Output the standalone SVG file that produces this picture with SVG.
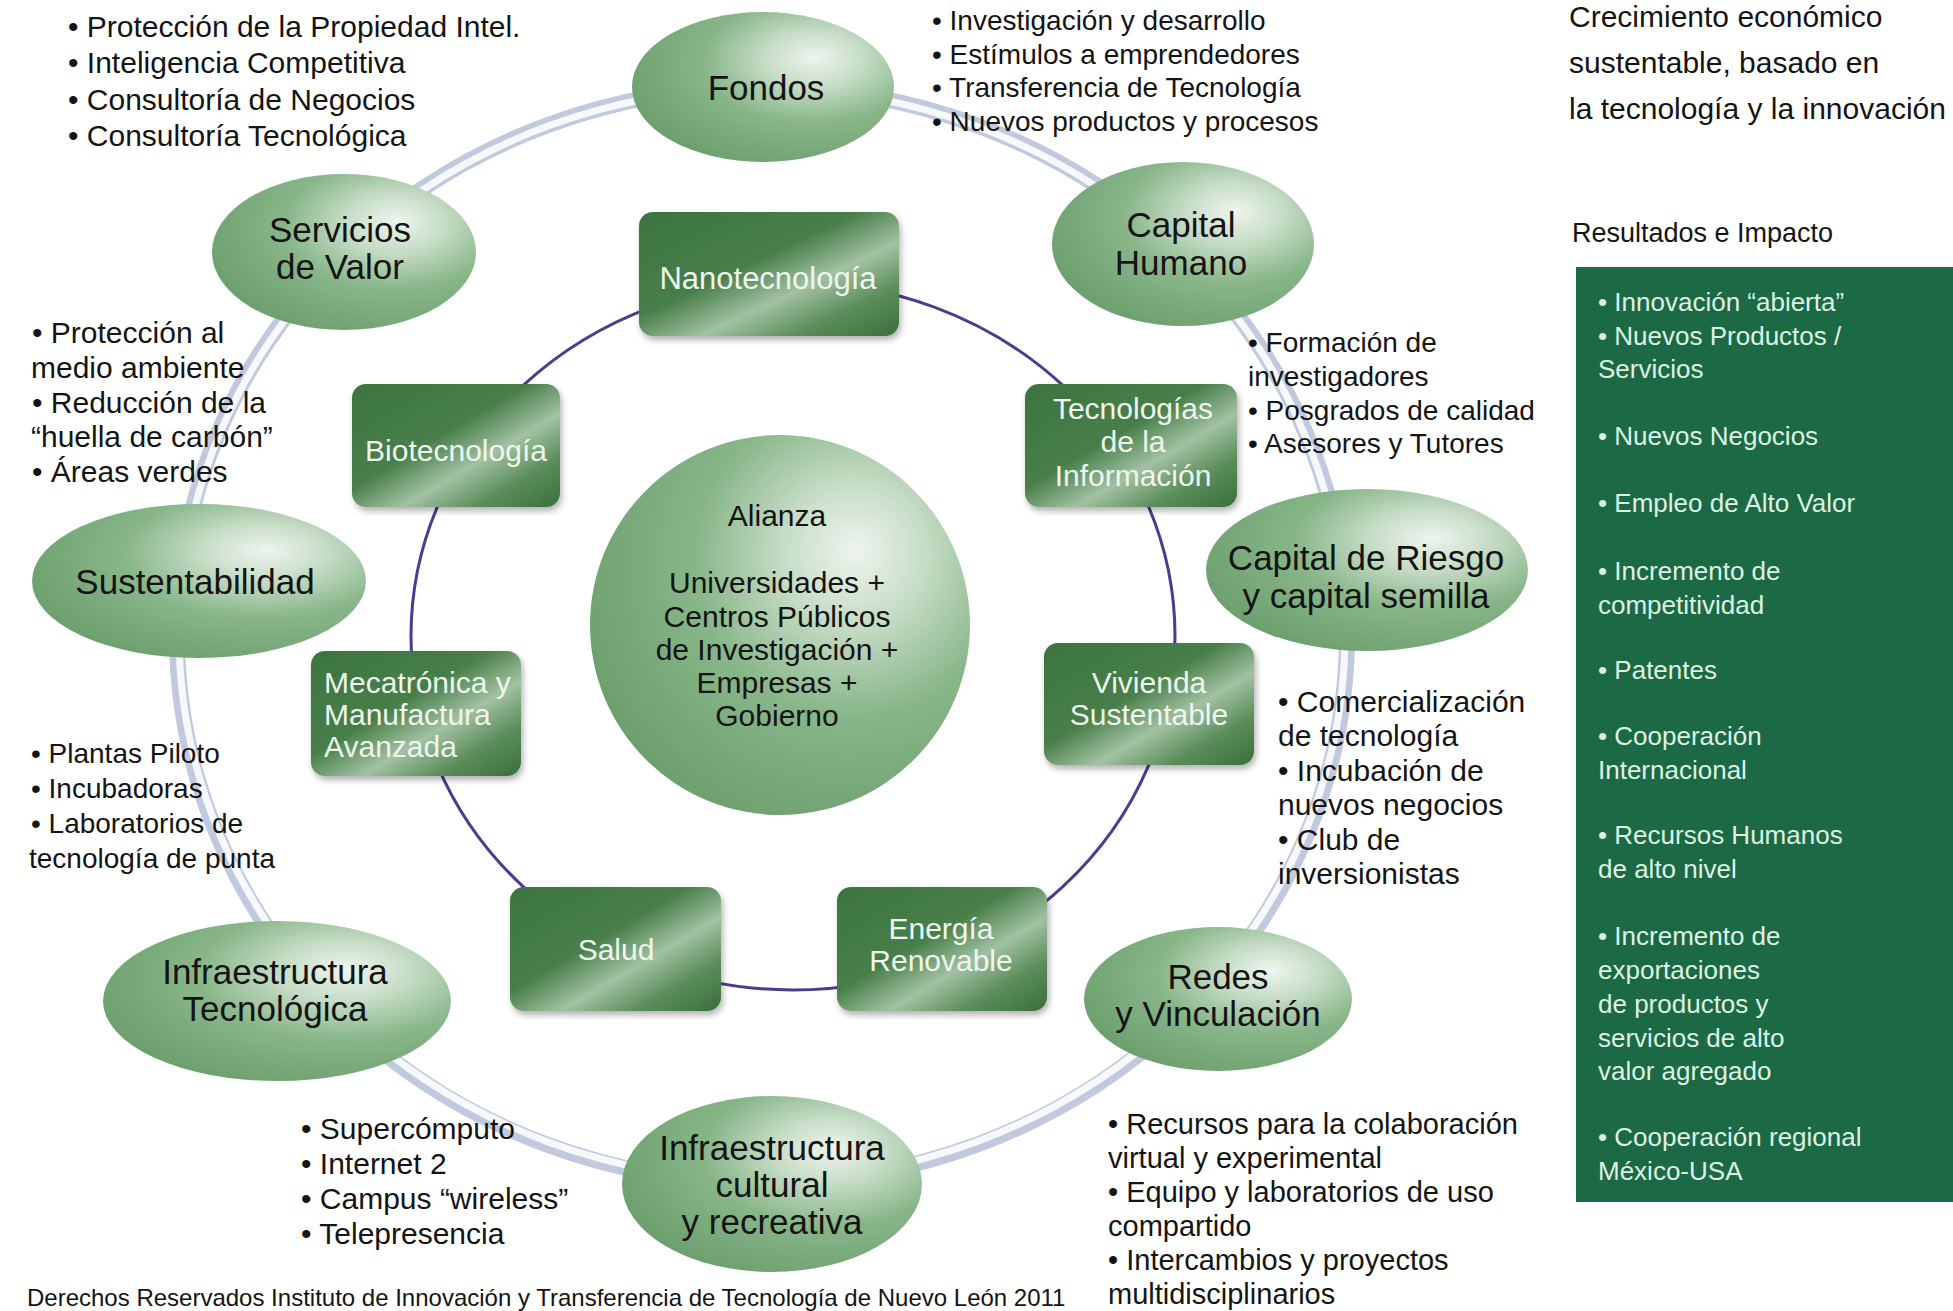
<svg xmlns="http://www.w3.org/2000/svg" width="1953" height="1311" viewBox="0 0 1953 1311">
<defs>
<radialGradient id="gEll" cx="0.68" cy="0.35" r="0.75" fx="0.7" fy="0.3">
<stop offset="0" stop-color="#eef5ee"/>
<stop offset="0.25" stop-color="#c6dcc6"/>
<stop offset="0.55" stop-color="#88b689"/>
<stop offset="1" stop-color="#6b9e6d"/>
</radialGradient>
<linearGradient id="gBox" x1="0" y1="0" x2="1" y2="1">
<stop offset="0" stop-color="#3d7440"/>
<stop offset="0.42" stop-color="#477e49"/>
<stop offset="0.62" stop-color="#a2c1a2"/>
<stop offset="0.8" stop-color="#5a8d5b"/>
<stop offset="1" stop-color="#3a6e3c"/>
</linearGradient>
<filter id="sh" x="-10%" y="-10%" width="125%" height="130%">
<feDropShadow dx="2" dy="4" stdDeviation="3" flood-color="#000" flood-opacity="0.3"/>
</filter>
<style>
text{font-family:"Liberation Sans",Arial,sans-serif}
.et{font-size:35px;fill:#141414;text-anchor:middle}
.bt{font-size:30px;fill:#eef6ee;text-anchor:middle}
.bl{font-size:30px;fill:#eef6ee}
.s30{font-size:30px;fill:#141414}
.s28{font-size:28px;fill:#141414}
.s29{font-size:29px;fill:#141414}
.pt{font-size:26px;fill:#def2e4}
.ell{fill:url(#gEll)}
.box{fill:url(#gBox);filter:url(#sh)}
</style>
</defs>
<rect width="1953" height="1311" fill="#ffffff"/>

<g id="connectors">
<ellipse cx="762" cy="635" rx="585" ry="548" fill="none" stroke="#c1c9de" stroke-width="16"/>
<ellipse cx="762" cy="634" rx="583" ry="546" fill="none" stroke="#f7f8fc" stroke-width="7"/>
<ellipse cx="793" cy="636" rx="382" ry="354" fill="none" stroke="#4a3d8f" stroke-width="3"/>
</g>

<g id="side-texts">
<text class="s30"><tspan x="68" y="37">• Protección de la Propiedad Intel.</tspan><tspan x="68" y="73">• Inteligencia Competitiva</tspan><tspan x="68" y="110">• Consultoría de Negocios</tspan><tspan x="68" y="146">• Consultoría Tecnológica</tspan></text>
<text class="s28"><tspan x="932" y="30">• Investigación y desarrollo</tspan><tspan x="932" y="64">• Estímulos a emprendedores</tspan><tspan x="932" y="97">• Transferencia de Tecnología</tspan><tspan x="932" y="131">• Nuevos productos y procesos</tspan></text>
<text class="s30"><tspan x="32" y="343">• Protección al</tspan><tspan x="31" y="378">medio ambiente</tspan><tspan x="32" y="413">• Reducción de la</tspan><tspan x="31" y="447">“huella de carbón”</tspan><tspan x="32" y="482">• Áreas verdes</tspan></text>
<text class="s28"><tspan x="31" y="763">• Plantas Piloto</tspan><tspan x="31" y="798">• Incubadoras</tspan><tspan x="31" y="833">• Laboratorios de</tspan><tspan x="29" y="868">tecnología de punta</tspan></text>
<text class="s30"><tspan x="301" y="1139">• Supercómputo</tspan><tspan x="301" y="1174">• Internet 2</tspan><tspan x="301" y="1209">• Campus “wireless”</tspan><tspan x="301" y="1244">• Telepresencia</tspan></text>
<text class="s28"><tspan x="1248" y="352">• Formación de</tspan><tspan x="1248" y="386">investigadores</tspan><tspan x="1248" y="420">• Posgrados de calidad</tspan><tspan x="1248" y="453">• Asesores y Tutores</tspan></text>
<text class="s30"><tspan x="1278" y="712">• Comercialización</tspan><tspan x="1278" y="746">de tecnología</tspan><tspan x="1278" y="781">• Incubación de</tspan><tspan x="1278" y="815">nuevos negocios</tspan><tspan x="1278" y="850">• Club de</tspan><tspan x="1278" y="884">inversionistas</tspan></text>
<text class="s29"><tspan x="1108" y="1134">• Recursos para la colaboración</tspan><tspan x="1108" y="1168">virtual y experimental</tspan><tspan x="1108" y="1202">• Equipo y laboratorios de uso</tspan><tspan x="1108" y="1236">compartido</tspan><tspan x="1108" y="1270">• Intercambios y proyectos</tspan><tspan x="1108" y="1304">multidisciplinarios</tspan></text>
<text x="27" y="1306" style="font-size:24px;fill:#141414">Derechos Reservados Instituto de Innovación y Transferencia de Tecnología de Nuevo León 2011</text>
</g>

<g id="node-fondos"><ellipse class="ell" cx="763" cy="87" rx="131" ry="75"/><text class="et" x="766" y="100">Fondos</text></g>
<g id="node-capital-humano"><ellipse class="ell" cx="1183" cy="244" rx="131" ry="82"/><text class="et"><tspan x="1181" y="237">Capital</tspan><tspan x="1181" y="275">Humano</tspan></text></g>
<g id="node-servicios"><ellipse class="ell" cx="344" cy="252" rx="132" ry="78"/><text class="et"><tspan x="340" y="242">Servicios</tspan><tspan x="340" y="279">de Valor</tspan></text></g>
<g id="node-sustentabilidad"><ellipse class="ell" cx="199" cy="581" rx="167" ry="77"/><text class="et" x="195" y="594">Sustentabilidad</text></g>
<g id="node-capital-riesgo"><ellipse class="ell" cx="1367" cy="570" rx="161" ry="81"/><text class="et"><tspan x="1366" y="570">Capital de Riesgo</tspan><tspan x="1366" y="608">y capital semilla</tspan></text></g>
<g id="node-infra-tec"><ellipse class="ell" cx="277" cy="1001" rx="174" ry="80"/><text class="et"><tspan x="275" y="984">Infraestructura</tspan><tspan x="275" y="1021">Tecnológica</tspan></text></g>
<g id="node-redes"><ellipse class="ell" cx="1218" cy="999" rx="134" ry="72"/><text class="et"><tspan x="1218" y="989">Redes</tspan><tspan x="1218" y="1026">y Vinculación</tspan></text></g>
<g id="node-infra-cultural"><ellipse class="ell" cx="772" cy="1184" rx="150" ry="88"/><text class="et"><tspan x="772" y="1160">Infraestructura</tspan><tspan x="772" y="1197">cultural</tspan><tspan x="772" y="1234">y recreativa</tspan></text></g>

<g id="node-nano"><rect class="box" x="639" y="212" width="260" height="124" rx="14"/><text class="bt" x="768" y="289" style="font-size:31px">Nanotecnología</text></g>
<g id="node-bio"><rect class="box" x="352" y="384" width="208" height="123" rx="14"/><text class="bt" x="456" y="461">Biotecnología</text></g>
<g id="node-ti"><rect class="box" x="1025" y="384" width="212" height="123" rx="14"/><text class="bt"><tspan x="1133" y="419">Tecnologías</tspan><tspan x="1133" y="452">de la</tspan><tspan x="1133" y="486">Información</tspan></text></g>
<g id="node-meca"><rect class="box" x="311" y="651" width="210" height="125" rx="14"/><text class="bl"><tspan x="324" y="693">Mecatrónica y</tspan><tspan x="324" y="725">Manufactura</tspan><tspan x="324" y="757">Avanzada</tspan></text></g>
<g id="node-vivienda"><rect class="box" x="1044" y="643" width="210" height="122" rx="14"/><text class="bt"><tspan x="1149" y="693">Vivienda</tspan><tspan x="1149" y="725">Sustentable</tspan></text></g>
<g id="node-salud"><rect class="box" x="510" y="887" width="211" height="124" rx="14"/><text class="bt" x="616" y="960">Salud</text></g>
<g id="node-energia"><rect class="box" x="837" y="887" width="210" height="124" rx="14"/><text class="bt"><tspan x="941" y="939">Energía</tspan><tspan x="941" y="971">Renovable</tspan></text></g>

<g id="node-alianza"><circle class="ell" cx="780" cy="625" r="190"/><text class="et" style="font-size:30px"><tspan x="777" y="526">Alianza</tspan><tspan x="777" y="593">Universidades +</tspan><tspan x="777" y="627">Centros Públicos</tspan><tspan x="777" y="660">de Investigación +</tspan><tspan x="777" y="693">Empresas +</tspan><tspan x="777" y="726">Gobierno</tspan></text></g>

<g id="title"><text class="s30"><tspan x="1569" y="27">Crecimiento económico</tspan><tspan x="1569" y="73">sustentable, basado en</tspan><tspan x="1569" y="119">la tecnología y la innovación</tspan></text>
<text x="1572" y="242" style="font-size:27px;fill:#141414">Resultados e Impacto</text></g>

<g id="node-resultados"><rect x="1576" y="267" width="377" height="935" fill="#1c6a45"/>
<text class="pt"><tspan x="1598" y="311">• Innovación “abierta”</tspan><tspan x="1598" y="345">• Nuevos Productos /</tspan><tspan x="1598" y="378">Servicios</tspan><tspan x="1598" y="445">• Nuevos Negocios</tspan><tspan x="1598" y="512">• Empleo de Alto Valor</tspan><tspan x="1598" y="580">• Incremento de</tspan><tspan x="1598" y="614">competitividad</tspan><tspan x="1598" y="679">• Patentes</tspan><tspan x="1598" y="745">• Cooperación</tspan><tspan x="1598" y="779">Internacional</tspan><tspan x="1598" y="844">• Recursos Humanos</tspan><tspan x="1598" y="878">de alto nivel</tspan><tspan x="1598" y="945">• Incremento de</tspan><tspan x="1598" y="979">exportaciones</tspan><tspan x="1598" y="1013">de productos y</tspan><tspan x="1598" y="1047">servicios de alto</tspan><tspan x="1598" y="1080">valor agregado</tspan><tspan x="1598" y="1146">• Cooperación regional</tspan><tspan x="1598" y="1180">México-USA</tspan></text></g>
</svg>
